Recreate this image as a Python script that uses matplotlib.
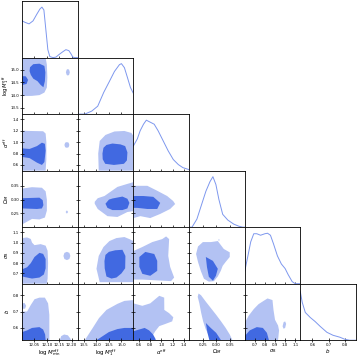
import matplotlib
matplotlib.use("Agg")
import matplotlib.pyplot as plt

names = [r'$\log M_{\rm min}^{\rm eff}$', r'$\log M_{1}^{\rm eff}$', r'$\alpha^{\rm eff}$',
         r'$\Omega_M$', r'$\sigma_8$', r'$b$']
limits = [(12.0, 12.225), (13.25, 15.48), (0.5, 1.49), (0.2, 0.405), (0.6, 1.15), (0.525, 0.87)]
ticks = [[12.05, 12.10, 12.15, 12.20], [13.5, 14.0, 14.5, 15.0], [0.6, 0.8, 1.0, 1.2, 1.4],
         [0.25, 0.30, 0.35], [0.7, 0.8, 0.9, 1.0, 1.1], [0.6, 0.7, 0.8]]
tick_labels = [['12.05', '12.10', '12.15', '12.20'], ['13.5', '14.0', '14.5', '15.0'],
               ['0.6', '0.8', '1.0', '1.2', '1.4'], ['0.25', '0.30', '0.35'],
               ['0.7', '0.8', '0.9', '1.0', '1.1'], ['0.6', '0.7', '0.8']]

# 1D marginals (normalised to peak 1)
pdf0_x = [12.0, 12.012, 12.028, 12.044, 12.06, 12.072, 12.08, 12.088, 12.096, 12.104, 12.112,
          12.125, 12.137, 12.149, 12.165, 12.177, 12.189, 12.197, 12.205, 12.213, 12.225]
pdf0_y = [0.727, 0.698, 0.668, 0.727, 0.865, 0.963, 1.0, 0.943, 0.55, 0.157, 0.02,
          0.0, 0.01, 0.06, 0.118, 0.157, 0.138, 0.079, 0.01, 0.0, 0.0]
pdf1_x = [13.25, 13.53, 13.81, 14.05, 14.29, 14.52, 14.72, 14.92, 15.0, 15.12, 15.24, 15.36, 15.48]
pdf1_y = [0.0, 0.0, 0.06, 0.157, 0.43, 0.65, 0.845, 0.98, 1.0, 0.92, 0.727, 0.53, 0.41]
pdf2_x = [0.5, 0.57, 0.62, 0.68, 0.73, 0.8, 0.87, 0.94, 1.03, 1.12, 1.21, 1.3, 1.38, 1.49]
pdf2_y = [0.49, 0.63, 0.79, 0.92, 1.0, 0.96, 0.92, 0.79, 0.59, 0.39, 0.22, 0.12, 0.06, 0.02]
pdf3_x = [0.2, 0.211, 0.229, 0.244, 0.262, 0.277, 0.288, 0.299, 0.31, 0.324, 0.343, 0.365,
          0.383, 0.398, 0.405]
pdf3_y = [0.0, 0.0, 0.16, 0.41, 0.71, 0.90, 1.0, 0.845, 0.55, 0.255, 0.14, 0.06, 0.02, 0.0, 0.0]
pdf4_x = [0.6, 0.63, 0.66, 0.69, 0.72, 0.757, 0.80, 0.826, 0.855, 0.885, 0.924, 0.963, 1.0,
          1.03, 1.07, 1.1, 1.15]
pdf4_y = [0.24, 0.53, 0.83, 0.99, 0.99, 0.96, 0.99, 1.0, 0.96, 0.79, 0.55, 0.39, 0.30,
          0.18, 0.04, 0.0, 0.0]
pdf5_x = [0.525, 0.537, 0.556, 0.587, 0.617, 0.648, 0.69, 0.728, 0.77, 0.8, 0.83, 0.87]
pdf5_y = [0.96, 0.75, 0.55, 0.45, 0.37, 0.275, 0.157, 0.098, 0.06, 0.02, 0.0, 0.0]

# 2D contours: 95% (light) and 68% (dark) outlines, (x, y) in data units
light_1_0 = [(12.0, 15.48), (12.095, 15.48), (12.1, 15.2), (12.102, 14.7), (12.1, 14.3),
             (12.09, 14.1), (12.07, 14.0), (12.04, 13.97), (12.0, 13.96)]
island_1_0 = [(12.177, 14.9), (12.18, 15.0), (12.185, 15.03), (12.19, 15.0), (12.193, 14.9),
              (12.19, 14.8), (12.185, 14.77), (12.18, 14.8)]
dark_1_0 = [(12.032, 15.1), (12.045, 15.22), (12.07, 15.24), (12.09, 15.15), (12.094, 14.9),
            (12.092, 14.55), (12.086, 14.31), (12.075, 14.4), (12.062, 14.55), (12.045, 14.65),
            (12.035, 14.8), (12.03, 14.95)]
dark_1_0b = [(12.0, 14.75), (12.015, 14.74), (12.024, 14.6), (12.018, 14.44), (12.0, 14.4)]

light_2_0 = [(12.0, 1.2), (12.03, 1.195), (12.085, 1.19), (12.095, 1.15), (12.098, 1.0),
             (12.098, 0.7), (12.095, 0.5), (12.0, 0.5)]
island_2_0 = [(12.171, 0.95), (12.174, 0.99), (12.181, 1.0), (12.188, 0.99), (12.191, 0.95),
              (12.188, 0.91), (12.181, 0.9), (12.174, 0.91)]
dark_2_0 = [(12.0, 0.89), (12.03, 0.88), (12.06, 0.93), (12.08, 0.99), (12.092, 0.97),
            (12.095, 0.85), (12.09, 0.65), (12.08, 0.6), (12.06, 0.64), (12.03, 0.72), (12.0, 0.74)]

light_3_0 = [(12.0, 0.34), (12.04, 0.345), (12.08, 0.343), (12.095, 0.33), (12.1, 0.3),
             (12.1, 0.26), (12.092, 0.235), (12.07, 0.228), (12.04, 0.23), (12.02, 0.22),
             (12.0, 0.21)]
island_3_0 = [(12.176, 0.255), (12.181, 0.261), (12.186, 0.255), (12.181, 0.249)]
dark_3_0 = [(12.0, 0.305), (12.07, 0.307), (12.083, 0.298), (12.086, 0.28), (12.08, 0.268),
            (12.06, 0.266), (12.0, 0.268)]

light_4_0 = [(12.0, 1.03), (12.005, 1.045), (12.02, 1.05), (12.035, 1.035), (12.04, 1.0),
             (12.05, 0.975), (12.075, 0.985), (12.095, 0.97), (12.103, 0.92), (12.105, 0.8),
             (12.103, 0.65), (12.1, 0.6), (12.0, 0.6)]
island_4_0 = [(12.167, 0.87), (12.171, 0.9), (12.181, 0.91), (12.191, 0.9), (12.195, 0.87),
              (12.191, 0.84), (12.181, 0.83), (12.171, 0.84)]
dark_4_0 = [(12.0, 0.74), (12.02, 0.76), (12.035, 0.8), (12.05, 0.86), (12.07, 0.9),
            (12.085, 0.89), (12.095, 0.84), (12.095, 0.75), (12.088, 0.69), (12.07, 0.66),
            (12.04, 0.65), (12.02, 0.66), (12.0, 0.67)]

light_5_0 = [(12.0, 0.70), (12.02, 0.70), (12.035, 0.74), (12.05, 0.775), (12.07, 0.785),
             (12.092, 0.785), (12.105, 0.75), (12.11, 0.68), (12.11, 0.525), (12.0, 0.525)]
lobe_5_0 = [(12.0, 0.716), (12.0, 0.75), (12.01, 0.752), (12.016, 0.735), (12.012, 0.718)]
island_5_0 = [(12.152, 0.525), (12.158, 0.55), (12.17, 0.56), (12.185, 0.555), (12.195, 0.535),
              (12.198, 0.525)]
dark_5_0 = [(12.0, 0.575), (12.02, 0.585), (12.04, 0.6), (12.07, 0.605), (12.085, 0.59),
            (12.093, 0.56), (12.095, 0.525), (12.0, 0.525)]

light_2_1 = [(14.09, 0.5), (14.07, 0.8), (14.13, 1.02), (14.36, 1.125), (14.72, 1.186),
             (15.12, 1.195), (15.4, 1.16), (15.48, 1.11), (15.48, 0.5)]
dark_2_1 = [(14.28, 0.9), (14.4, 0.95), (14.64, 0.975), (14.96, 0.96), (15.15, 0.93),
            (15.24, 0.82), (15.22, 0.68), (15.1, 0.62), (14.7, 0.6), (14.35, 0.62),
            (14.25, 0.7), (14.24, 0.8)]

light_3_1 = [(13.93, 0.292), (14.05, 0.305), (14.32, 0.313), (14.84, 0.346), (15.24, 0.357),
             (15.55, 0.365), (15.55, 0.259), (15.24, 0.255), (14.84, 0.237), (14.44, 0.24),
             (14.05, 0.266), (13.93, 0.285)]
dark_3_1 = [(14.36, 0.285), (14.5, 0.3), (14.64, 0.304), (15.04, 0.311), (15.24, 0.303),
            (15.32, 0.288), (15.24, 0.268), (15.04, 0.262), (14.64, 0.262), (14.44, 0.27)]

light_4_1 = [(14.13, 0.615), (14.0, 0.745), (14.09, 0.87), (14.28, 0.957), (14.52, 1.015),
             (14.8, 1.044), (15.12, 1.054), (15.32, 1.034), (15.48, 1.015), (15.48, 0.615)]
dark_4_1 = [(14.36, 0.88), (14.5, 0.91), (14.75, 0.925), (15.04, 0.93), (15.16, 0.87),
            (15.15, 0.75), (15.0, 0.7), (14.8, 0.66), (14.6, 0.65), (14.4, 0.67),
            (14.33, 0.75), (14.32, 0.82)]

light_5_1 = [(13.53, 0.525), (13.85, 0.6), (14.1, 0.66), (14.4, 0.71), (14.84, 0.747),
             (15.12, 0.765), (15.48, 0.77), (15.48, 0.525)]
dark_5_1 = [(14.0, 0.525), (14.2, 0.545), (14.5, 0.575), (14.84, 0.593), (15.12, 0.6),
            (15.48, 0.6), (15.48, 0.525)]

light_3_2 = [(0.5, 0.35), (0.624, 0.35), (0.748, 0.35), (0.924, 0.332), (1.10, 0.313),
             (1.207, 0.295), (1.243, 0.284), (1.154, 0.266), (0.977, 0.248), (0.80, 0.233),
             (0.624, 0.24), (0.5, 0.233)]
dark_3_2 = [(0.5, 0.313), (0.677, 0.313), (0.854, 0.31), (0.977, 0.288), (0.924, 0.266),
            (0.748, 0.266), (0.571, 0.27), (0.5, 0.27)]

light_4_2 = [(0.5, 0.918), (0.659, 0.957), (0.836, 1.005), (1.013, 1.034), (1.082, 1.06),
             (1.136, 1.034), (1.12, 0.87), (1.154, 0.764), (1.225, 0.66), (1.17, 0.625),
             (1.0, 0.63), (0.659, 0.64), (0.5, 0.64)]
dark_4_2 = [(0.606, 0.86), (0.712, 0.909), (0.871, 0.889), (0.924, 0.822), (0.924, 0.725),
            (0.80, 0.677), (0.659, 0.696), (0.606, 0.764)]

light_5_2 = [(0.5, 0.75), (0.659, 0.735), (0.80, 0.75), (0.96, 0.796), (1.048, 0.785),
             (1.05, 0.71), (1.136, 0.69), (1.21, 0.665), (1.19, 0.64), (1.066, 0.624),
             (0.96, 0.611), (0.889, 0.58), (0.836, 0.55), (0.80, 0.525), (0.5, 0.525)]
dark_5_2 = [(0.5, 0.58), (0.6, 0.59), (0.7, 0.6), (0.78, 0.585), (0.85, 0.56), (0.89, 0.535),
            (0.9, 0.525), (0.5, 0.525)]

light_4_3 = [(0.226, 0.889), (0.233, 0.962), (0.251, 1.005), (0.281, 1.005), (0.306, 1.015),
             (0.328, 0.938), (0.35, 0.905), (0.35, 0.86), (0.335, 0.812), (0.324, 0.774),
             (0.317, 0.725), (0.306, 0.67), (0.292, 0.625), (0.273, 0.62), (0.255, 0.648),
             (0.244, 0.72), (0.233, 0.812)]
island_4_3 = [(0.308, 1.025), (0.31, 1.035), (0.313, 1.025), (0.31, 1.017)]
dark_4_3 = [(0.262, 0.86), (0.288, 0.822), (0.306, 0.745), (0.299, 0.677), (0.288, 0.629),
            (0.273, 0.667), (0.266, 0.764)]

light_5_3 = [(0.235, 0.81), (0.244, 0.80), (0.262, 0.76), (0.281, 0.72), (0.30, 0.68),
             (0.318, 0.64), (0.335, 0.6), (0.35, 0.56), (0.36, 0.525), (0.29, 0.525),
             (0.275, 0.55), (0.262, 0.59), (0.252, 0.64), (0.245, 0.69), (0.238, 0.75),
             (0.232, 0.79)]
dark_5_3 = [(0.262, 0.63), (0.28, 0.6), (0.30, 0.57), (0.318, 0.525), (0.275, 0.525),
            (0.268, 0.57)]

light_5_4 = [(0.6, 0.63), (0.64, 0.675), (0.69, 0.715), (0.737, 0.745), (0.787, 0.765),
             (0.826, 0.78), (0.875, 0.77), (0.885, 0.71), (0.9, 0.65), (0.93, 0.615),
             (0.94, 0.585), (0.93, 0.525), (0.6, 0.525)]
island_5_4 = [(0.975, 0.61), (0.985, 0.635), (1.0, 0.64), (1.01, 0.625), (1.0, 0.6), (0.985, 0.595)]
dark_5_4 = [(0.6, 0.55), (0.65, 0.585), (0.72, 0.605), (0.78, 0.6), (0.82, 0.57), (0.84, 0.525),
            (0.6, 0.525)]

pdfs = [(pdf0_x, pdf0_y), (pdf1_x, pdf1_y), (pdf2_x, pdf2_y),
        (pdf3_x, pdf3_y), (pdf4_x, pdf4_y), (pdf5_x, pdf5_y)]
contours = {
    (1, 0): ([light_1_0, island_1_0], [dark_1_0, dark_1_0b]),
    (2, 0): ([light_2_0, island_2_0], [dark_2_0]),
    (3, 0): ([light_3_0, island_3_0], [dark_3_0]),
    (4, 0): ([light_4_0, island_4_0], [dark_4_0]),
    (5, 0): ([light_5_0, lobe_5_0, island_5_0], [dark_5_0]),
    (2, 1): ([light_2_1], [dark_2_1]),
    (3, 1): ([light_3_1], [dark_3_1]),
    (4, 1): ([light_4_1], [dark_4_1]),
    (5, 1): ([light_5_1], [dark_5_1]),
    (3, 2): ([light_3_2], [dark_3_2]),
    (4, 2): ([light_4_2], [dark_4_2]),
    (5, 2): ([light_5_2], [dark_5_2]),
    (4, 3): ([light_4_3, island_4_3], [dark_4_3]),
    (5, 3): ([light_5_3], [dark_5_3]),
    (5, 4): ([light_5_4, island_5_4], [dark_5_4]),
}

c_light = '#b3c2f3'
c_dark = '#4169e1'
c_line = '#7d97ee'

n = 6
fig, axes = plt.subplots(n, n, figsize=(3.57, 3.57), dpi=100)
fig.subplots_adjust(left=0.062, right=0.997, top=0.997, bottom=0.047, wspace=0, hspace=0)

for r in range(n):
    for c in range(n):
        ax = axes[r, c]
        if c > r:
            ax.axis('off')
            continue
        for s in ax.spines.values():
            s.set_linewidth(0.6)
        ax.set_xlim(limits[c])
        ax.set_xticks(ticks[c])
        ax.set_xticklabels(tick_labels[c])
        if r == c:
            px, py = pdfs[c]
            ax.plot(px, py, color=c_line, lw=0.7)
            ax.set_ylim(0, 1.12)
            ax.set_yticks([])
        else:
            lights, darks = contours[(r, c)]
            for poly in lights:
                ax.fill([p[0] for p in poly], [p[1] for p in poly], color=c_light, lw=0)
            for poly in darks:
                ax.fill([p[0] for p in poly], [p[1] for p in poly], color=c_dark, lw=0)
            ax.set_ylim(limits[r])
            ax.set_yticks(ticks[r])
            ax.set_yticklabels(tick_labels[r])
        ax.tick_params(direction='inout', length=2.5, width=0.5, labelsize=2.8, pad=0.8,
                       labelbottom=(r == n - 1), labelleft=(c == 0 and r > 0))
        if r == n - 1:
            ax.set_xlabel(names[c], fontsize=4.0)
            ax.xaxis.set_label_coords(0.5, -0.125)
        if c == 0 and r > 0:
            ax.set_ylabel(names[r], fontsize=3.8)
            ax.yaxis.set_label_coords(-0.2, 0.5)

fig.savefig('out.png', dpi=100)
